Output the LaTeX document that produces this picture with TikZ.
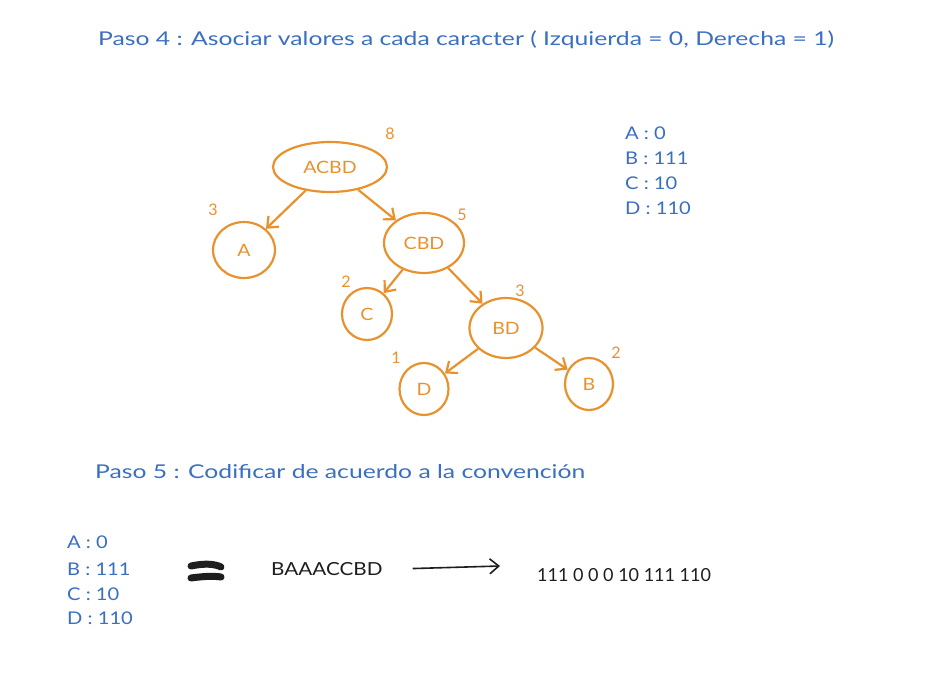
\documentclass[tikz,border=0pt]{standalone}
\usepackage{fontspec}
\setmainfont{Lato}
\newfontfamily\handwide[FakeStretch=1.3]{Lato}
\newfontfamily\handmid[FakeStretch=1.15]{Lato}
\usetikzlibrary{arrows.meta,shapes.geometric}
\definecolor{hblue}{HTML}{3A6FC2}
\definecolor{horange}{HTML}{E8922F}
\definecolor{hink}{HTML}{1E1E1E}
\begin{document}
\begin{tikzpicture}[x=1pt,y=-1pt,
  tnode/.style={draw=horange, line width=2.2pt, ellipse, inner sep=0pt, text=horange, font=\handmid\fontsize{17}{17}\selectfont},
  cnt/.style={text=horange, font=\fontsize{16}{16}\selectfont, inner sep=0pt},
  edge/.style={draw=horange, line width=2.2pt, -{Straight Barb[length=9pt,width=15pt]}},
  btitle/.style={text=hblue, anchor=base west, inner sep=0pt, font=\handwide\fontsize{19}{19}\selectfont},
  blist/.style={text=hblue, anchor=base west, inner sep=0pt, font=\handmid\fontsize{17.5}{17.5}\selectfont},
  ktxt/.style={text=hink, anchor=base west, inner sep=0pt, font=\handmid\fontsize{18}{18}\selectfont},
  rtxt/.style={text=hink, anchor=base west, inner sep=0pt, font=\fontsize{18}{18}\selectfont},
]
\useasboundingbox (0,0) rectangle (928,676);
\fill[white] (0,0) rectangle (928,676);

\node[btitle] (t4) at (98,46) {Paso 4 : Asociar valores a cada caracter ( Izquierda = 0, Derecha = 1)};

\node[tnode, minimum width=114pt, minimum height=50pt] (acbd) at (330,167) {ACBD};
\node[tnode, minimum width=62pt, minimum height=56pt] (a) at (244,250) {A};
\node[tnode, minimum width=80pt, minimum height=60pt] (cbd) at (424,243) {CBD};
\node[tnode, minimum width=50pt, minimum height=52pt] (c) at (367,314) {C};
\node[tnode, minimum width=73pt, minimum height=60pt] (bd) at (506,328) {BD};
\node[tnode, minimum width=49pt, minimum height=52pt] (d) at (424,389) {D};
\node[tnode, minimum width=48pt, minimum height=52pt] (b) at (589,384) {B};

\node[cnt] (n8) at (390,134) {8};
\node[cnt] (n3a) at (213,210) {3};
\node[cnt] (n5) at (462,215) {5};
\node[cnt] (n2c) at (346,282) {2};
\node[cnt] (n3b) at (520,291) {3};
\node[cnt] (n1) at (396,358) {1};
\node[cnt] (n2b) at (616,353) {2};

\draw[edge] (acbd) -- (a);
\draw[edge] (acbd) -- (cbd);
\draw[edge] (cbd) -- (c);
\draw[edge] (cbd) -- (bd);
\draw[edge] (bd) -- (d);
\draw[edge] (bd) -- (b);

\node[blist] (r1) at (625,140) {A : 0};
\node[blist] (r2) at (625,165) {B : 111};
\node[blist] (r3) at (625,190) {C : 10};
\node[blist] (r4) at (625,215) {D : 110};

\node[btitle] (t5) at (95,478) {Paso 5 : Codificar de acuerdo a la convención};

\node[blist] (l1) at (67,548) {A : 0};
\node[blist] (l2) at (67,575) {B : 111};
\node[blist] (l3) at (67,600) {C : 10};
\node[blist] (l4) at (67,624) {D : 110};

\draw[hink, line width=7pt, line cap=round] (191,566) .. controls (205,563) and (215,564) .. (221,567);
\draw[hink, line width=7pt, line cap=round] (191,578) .. controls (205,576) and (215,576) .. (221,577);

\node[ktxt] (src) at (271,575) {BAAACCBD};
\node[rtxt] (res) at (537,581) {111 0 0 0 10 111 110};
\coordinate (arrE) at (500,566);
\draw[hink, line width=1.6pt, -{Straight Barb[length=9pt,width=15pt]}] ([xshift=30pt]src.east) -- (arrE);
\end{tikzpicture}
\end{document}
